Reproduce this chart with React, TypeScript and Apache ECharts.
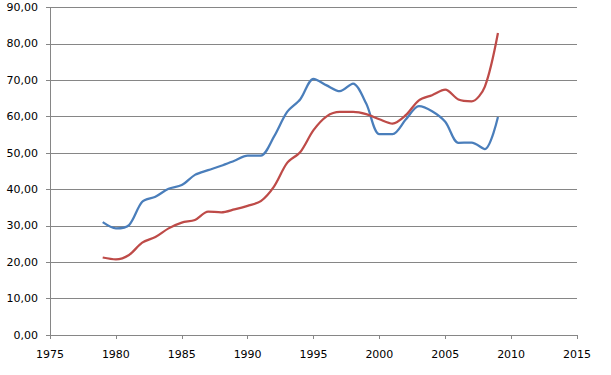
import React, { useEffect, useRef } from "react";
import * as echarts from "echarts";

const years = [1979, 1980, 1981, 1982, 1983, 1984, 1985, 1986, 1987, 1988, 1989, 1990, 1991, 1992, 1993, 1994, 1995, 1996, 1997, 1998, 1999, 2000, 2001, 2002, 2003, 2004, 2005, 2006, 2007, 2008, 2009];
const blueValues = [31.0, 29.3, 30.2, 36.6, 38.0, 40.2, 41.2, 44.0, 45.3, 46.5, 47.9, 49.3, 49.3, 54.5, 61.3, 64.8, 70.4, 68.6, 67.0, 69.1, 63.6, 55.2, 55.2, 59.2, 62.9, 61.5, 58.6, 52.8, 52.9, 51.1, 59.9];
const redValues = [21.3, 20.8, 22.0, 25.4, 26.9, 29.3, 30.9, 31.6, 33.9, 33.7, 34.5, 35.5, 36.8, 40.8, 47.3, 50.3, 56.3, 60.1, 61.3, 61.3, 60.7, 59.3, 58.1, 60.4, 64.5, 65.9, 67.4, 64.7, 64.2, 68.2, 83.0];

export default function App() {
  const ref = useRef<HTMLDivElement>(null);
  useEffect(() => {
    if (!ref.current) return;
    const chart = echarts.init(ref.current, null, { renderer: "svg" });
    const font = "DejaVu Sans";
    chart.setOption({
      animation: false,
      backgroundColor: "#ffffff",
      grid: { left: 50, right: 34, top: 7.5, bottom: 40, containLabel: false },
      xAxis: {
        type: "value",
        min: 1975,
        max: 2015,
        interval: 5,
        axisLine: { show: true, lineStyle: { color: "#868686", width: 1 } },
        axisTick: { show: true, length: 4, lineStyle: { color: "#868686" } },
        splitLine: { show: false },
        axisLabel: { color: "#000", fontFamily: font, fontSize: 11, margin: 14, formatter: (v: number) => String(v) },
      },
      yAxis: {
        type: "value",
        min: 0,
        max: 90,
        interval: 10,
        axisLine: { show: true, lineStyle: { color: "#868686", width: 1 } },
        axisTick: { show: true, length: 4, lineStyle: { color: "#868686" } },
        splitLine: { show: true, lineStyle: { color: "#868686", width: 1 } },
        axisLabel: {
          color: "#000",
          fontFamily: font,
          fontSize: 11,
          margin: 12,
          formatter: (v: number) => v.toFixed(2).replace(".", ","),
        },
      },
      series: [
        {
          type: "line",
          data: years.map((y, i) => [y, blueValues[i]]),
          smooth: 0.3,
          showSymbol: false,
          lineStyle: { color: "#4A7EBB", width: 2.25 },
          itemStyle: { color: "#4A7EBB" },
        },
        {
          type: "line",
          data: years.map((y, i) => [y, redValues[i]]),
          smooth: 0.3,
          showSymbol: false,
          lineStyle: { color: "#BE4B48", width: 2.25 },
          itemStyle: { color: "#BE4B48" },
        },
      ],
    });
    return () => chart.dispose();
  }, []);
  return <div ref={ref} style={{ width: 611, height: 375, position: "absolute", left: 0, top: 0 }} />;
}
